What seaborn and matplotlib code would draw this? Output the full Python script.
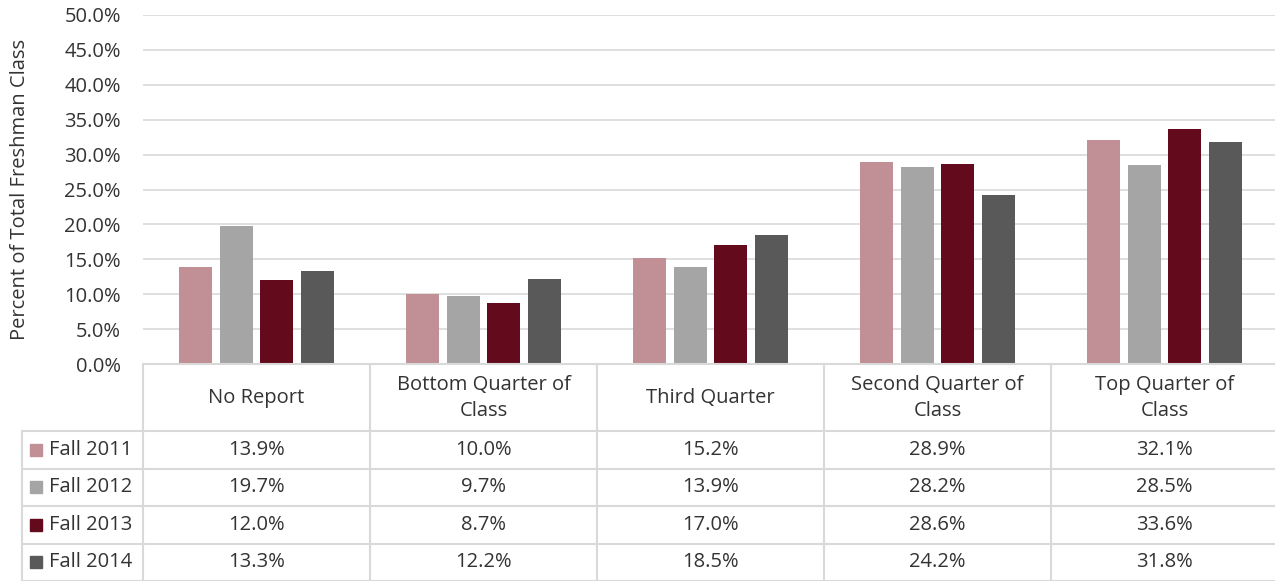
import textwrap
import numpy as np
import pandas as pd
import matplotlib
matplotlib.use("Agg")
import matplotlib.pyplot as plt
from matplotlib.patches import Rectangle
from matplotlib.ticker import PercentFormatter
import seaborn as sns

# -----------------------------
# DATA
# -----------------------------
categories = ["No Report", "Bottom Quarter of Class", "Third Quarter",
              "Second Quarter of Class", "Top Quarter of Class"]
years = ["Fall 2011", "Fall 2012", "Fall 2013", "Fall 2014"]
fall_2011 = [13.9, 10.0, 15.2, 28.9, 32.1]
fall_2012 = [19.7, 9.7, 13.9, 28.2, 28.5]
fall_2013 = [12.0, 8.7, 17.0, 28.6, 33.6]
fall_2014 = [13.3, 12.2, 18.5, 24.2, 31.8]
colors = ["#C09096", "#A5A5A5", "#630A1C", "#595959"]

series = [fall_2011, fall_2012, fall_2013, fall_2014]
df = pd.DataFrame({
    "category": np.tile(categories, len(years)),
    "year": np.repeat(years, len(categories)),
    "value": np.concatenate(series),
})

# -----------------------------
# STYLE
# -----------------------------
sns.set_theme(style="white")
plt.rcParams["font.family"] = ["Open Sans", "DejaVu Sans"]
text_col = "#333333"
grid_col = "#D9D9D9"
fs = 14.5
W, H = 1275, 581

fig = plt.figure(figsize=(W / 100, H / 100), dpi=100)
ax_left, ax_right = 143 / W, 1278 / W
ax = fig.add_axes([ax_left, (H - 364) / H, ax_right - ax_left, (364 - 15) / H])

sns.barplot(data=df, x="category", y="value", hue="year", order=categories,
            hue_order=years, palette=colors, width=0.72, gap=0.195,
            saturation=1, edgecolor="none", legend=False, ax=ax)

ax.set_xlim(-0.5, len(categories) - 0.5)
ax.set_ylim(0, 50)
ax.set_yticks(np.arange(0, 50.1, 5))
ax.yaxis.set_major_formatter(PercentFormatter(decimals=1))
ax.grid(axis="y", color=grid_col, lw=1.2)
ax.set_axisbelow(True)
for s in ax.spines.values():
    s.set_visible(False)
ax.set_xticks([])
ax.set_xlabel("")
ax.tick_params(axis="y", length=0, pad=16, labelsize=fs, labelcolor=text_col)
ax.set_ylabel("Percent of Total Freshman Class", fontsize=14.5, color=text_col)
ax.yaxis.set_label_coords(-0.0996, 0.5)

# -----------------------------
# DATA TABLE
# -----------------------------
tab_h = H - 364
tax = fig.add_axes([ax_left, 0, ax_right - ax_left, tab_h / H])
tax.set_xlim(-0.5, len(categories) - 0.5)
tax.set_ylim(tab_h, 0)
tax.axis("off")

px = (len(categories)) / (1278 - 143)  # data units per pixel in x
left_edge = -0.5 - 121 * px
header_h = 67
row_h = (tab_h - header_h) / len(years)
row_edges = [header_h + i * row_h for i in range(len(years) + 1)]

line_kw = dict(color=grid_col, lw=1.5, clip_on=False)
tax.plot([-0.5, len(categories) - 0.5], [0, 0], **line_kw)
for y in row_edges:
    tax.plot([left_edge, len(categories) - 0.5], [y, y], **line_kw)
for i in range(len(categories) + 1):
    tax.plot([i - 0.5, i - 0.5], [0, tab_h], **line_kw)
tax.plot([left_edge, left_edge], [header_h, tab_h], **line_kw)

for i, cat in enumerate(categories):
    tax.text(i, header_h / 2 + 0.5, textwrap.fill(cat, 17), ha="center",
             va="center", fontsize=fs, color=text_col, linespacing=1.45)

for r, (yr, vals, c) in enumerate(zip(years, series, colors)):
    yc = row_edges[r] + row_h / 2
    tax.add_patch(Rectangle((left_edge + 8 * px, yc - 6), 12 * px, 12,
                            color=c, clip_on=False))
    tax.text(left_edge + 27 * px, yc, yr, ha="left", va="center",
             fontsize=fs, color=text_col)
    for i, v in enumerate(vals):
        tax.text(i, yc, f"{v:.1f}%", ha="center", va="center",
                 fontsize=fs, color=text_col)

fig.savefig("out.png", dpi=100)
